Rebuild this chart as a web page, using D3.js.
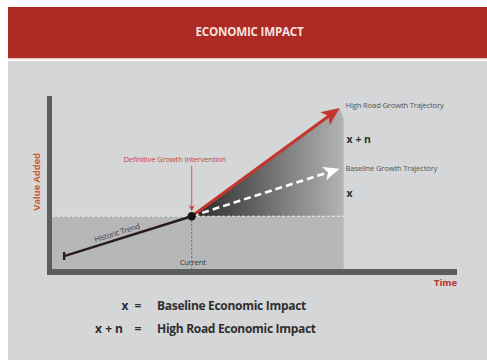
<!DOCTYPE html>
<html>
<head>
<meta charset="utf-8">
<script src="https://cdn.jsdelivr.net/npm/d3@7/dist/d3.min.js"></script>
<style>
  html, body { margin: 0; padding: 0; background: #ffffff; }
  svg { display: block; }
</style>
</head>
<body>
<svg id="chart" width="487" height="360"></svg>
<script>
// ---- data (time and value in arbitrary 0–100 units) ----
const title = "ECONOMIC IMPACT";
const historicTrend = [ { t: 3, v: 7.5 }, { t: 34.5, v: 30.5 } ];
const highRoadTrajectory = [ { t: 34.5, v: 30.5 }, { t: 71, v: 93 } ];
const baselineTrajectory = [ { t: 34.5, v: 30.5 }, { t: 71, v: 58 } ];
const projectionEnd = [ { t: 72, top: 87 } ];
const trajectoryLabels = ["High Road Growth Trajectory", "x + n", "Baseline Growth Trajectory", "x"];
const axisLabels = ["Value Added", "Time"];
const pointLabels = ["Current", "Historic Trend", "Definitive Growth Intervention"];
const legendKeys = ["x", "x + n"];
const legendText = ["Baseline Economic Impact", "High Road Economic Impact"];

const svg = d3.select("#chart");
const W = 487, H = 360;

// ---- page frame: banner and panel ----
svg.append("rect").attr("x", 8).attr("y", 61).attr("width", W - 8).attr("height", H - 61).attr("fill", "#d4d6d8");
svg.append("rect").attr("x", 8).attr("y", 7).attr("width", W - 8).attr("height", 51).attr("fill", "#ae2b25");
svg.append("rect").attr("x", 8).attr("y", 58).attr("width", W - 8).attr("height", 1.5).attr("fill", "#e6c9c4");
svg.append("text").attr("x", 249.5).attr("y", 35.5).attr("text-anchor", "middle")
  .attr("font-family", "Open Sans, sans-serif").attr("font-weight", 700).attr("font-size", 11.6)
  .attr("letter-spacing", -0.2).attr("fill", "#f4e2de").text(title);

// ---- scales ----
const x = d3.scaleLinear().domain([0, 100]).range([52, 457]);
const y = d3.scaleLinear().domain([0, 100]).range([269, 96]);

const cur = historicTrend[1];
const endT = projectionEnd[0];

// shaded history band below the current level
svg.append("rect")
  .attr("x", x(0)).attr("y", y(cur.v))
  .attr("width", x(endT.t) - x(0)).attr("height", y(0) - y(cur.v))
  .attr("fill", "#b6b7b9");

// gradient wedge between current level and high road trajectory
const defs = svg.append("defs");
const grad = defs.append("linearGradient").attr("id", "wedge")
  .attr("gradientUnits", "userSpaceOnUse")
  .attr("x1", x(cur.t)).attr("x2", x(endT.t)).attr("y1", 0).attr("y2", 0);
grad.append("stop").attr("offset", 0).attr("stop-color", "#282828");
grad.append("stop").attr("offset", 0.5).attr("stop-color", "#6e6e6e");
grad.append("stop").attr("offset", 1).attr("stop-color", "#b3b4b6");

const wedge = [
  [x(cur.t), y(cur.v)],
  [x(highRoadTrajectory[1].t), y(highRoadTrajectory[1].v)],
  [x(endT.t), y(endT.top)],
  [x(endT.t), y(cur.v)]
];
svg.append("path").attr("d", d3.line()(wedge) + "Z").attr("fill", "url(#wedge)");

// current level dashed guide
svg.append("line")
  .attr("x1", x(0)).attr("x2", x(endT.t)).attr("y1", y(cur.v)).attr("y2", y(cur.v))
  .attr("stroke", "#eeeeee").attr("stroke-width", 1).attr("stroke-dasharray", "3,2");

// vertical dashed "current" marker
svg.append("line")
  .attr("x1", x(cur.t)).attr("x2", x(cur.t)).attr("y1", y(cur.v)).attr("y2", y(0))
  .attr("stroke", "#4a4a4a").attr("stroke-width", 0.8).attr("stroke-dasharray", "2,2");

// ---- axes drawn as heavy bars from the scales ----
const xAxis = d3.axisBottom(x).ticks(0).tickSize(0).tickSizeOuter(0);
const yAxis = d3.axisLeft(y).ticks(0).tickSize(0).tickSizeOuter(0);
svg.append("g").attr("transform", `translate(0,${y(0) + 3})`).call(xAxis)
  .call(g => g.select(".domain").attr("stroke", "#5b5d5f").attr("stroke-width", 6)
    .attr("d", `M${x(0) - 5},0H${x(100)}`));
svg.append("g").attr("transform", `translate(${x(0) - 2.5},0)`).call(yAxis)
  .call(g => g.select(".domain").attr("stroke", "#5b5d5f").attr("stroke-width", 5)
    .attr("d", `M0,${y(100)}V${y(0)}`));

// arrowhead helper: swept head with tip at (tx,ty)
function arrowHead(tx, ty, angle, len, half, fill) {
  const back = 0.25 * len;
  const pts = [
    [0, 0], [-len, -half], [-len + back, 0], [-len, half]
  ].map(([px, py]) => [
    tx + px * Math.cos(angle) - py * Math.sin(angle),
    ty + px * Math.sin(angle) + py * Math.cos(angle)
  ]);
  svg.append("path").attr("d", d3.line()(pts) + "Z").attr("fill", fill);
}

const line = d3.line().x(d => x(d.t)).y(d => y(d.v));

// historic trend
svg.append("path").datum(historicTrend).attr("d", line)
  .attr("fill", "none").attr("stroke", "#2a1c1c").attr("stroke-width", 2.4);
svg.append("line")
  .attr("x1", x(historicTrend[0].t)).attr("x2", x(historicTrend[0].t))
  .attr("y1", y(historicTrend[0].v) - 4).attr("y2", y(historicTrend[0].v) + 4)
  .attr("stroke", "#2a1c1c").attr("stroke-width", 2.4);

// baseline trajectory (white dashed arrow)
{
  const [a, b] = baselineTrajectory;
  const ang = Math.atan2(y(b.v) - y(a.v), x(b.t) - x(a.t));
  const endX = x(b.t) - 12 * Math.cos(ang), endY = y(b.v) - 12 * Math.sin(ang);
  svg.append("line").attr("x1", x(a.t)).attr("y1", y(a.v)).attr("x2", endX).attr("y2", endY)
    .attr("stroke", "#ffffff").attr("stroke-width", 2.6).attr("stroke-dasharray", "7,4");
  arrowHead(x(b.t), y(b.v), ang, 16, 7, "#ffffff");
}

// high road trajectory (red arrow)
{
  const [a, b] = highRoadTrajectory;
  const ang = Math.atan2(y(b.v) - y(a.v), x(b.t) - x(a.t));
  const endX = x(b.t) - 12 * Math.cos(ang), endY = y(b.v) - 12 * Math.sin(ang);
  svg.append("line").attr("x1", x(a.t)).attr("y1", y(a.v)).attr("x2", endX).attr("y2", endY)
    .attr("stroke", "#c4362b").attr("stroke-width", 3);
  arrowHead(x(b.t), y(b.v), ang, 18, 8, "#c4362b");
}

// intervention point
svg.append("circle").attr("cx", x(cur.t)).attr("cy", y(cur.v)).attr("r", 4.2).attr("fill", "#151515");

// intervention callout
svg.append("line").attr("x1", x(cur.t)).attr("x2", x(cur.t)).attr("y1", 166).attr("y2", y(cur.v) - 7)
  .attr("stroke", "#c9493b").attr("stroke-width", 0.9);
arrowHead(x(cur.t), y(cur.v) - 5, Math.PI / 2, 6, 3, "#c9493b");
svg.append("text").attr("x", x(cur.t) - 17).attr("y", 162).attr("text-anchor", "middle")
  .attr("font-family", "Open Sans, sans-serif").attr("font-size", 7.7).attr("letter-spacing", -0.2)
  .attr("fill", "#c9493b").text(pointLabels[2]);

// current label
svg.append("text").attr("x", x(cur.t) + 1).attr("y", 265).attr("text-anchor", "middle")
  .attr("font-family", "Open Sans, sans-serif").attr("font-size", 7.6).attr("letter-spacing", -0.2)
  .attr("fill", "#333333").text(pointLabels[0]);

// historic trend label along the line
{
  const [a, b] = historicTrend;
  const ang = Math.atan2(y(b.v) - y(a.v), x(b.t) - x(a.t)) * 180 / Math.PI;
  const mx = x(a.t + (b.t - a.t) * 0.42), my = y(a.v + (b.v - a.v) * 0.42) - 4;
  svg.append("text").attr("transform", `translate(${mx},${my}) rotate(${ang})`)
    .attr("text-anchor", "middle")
    .attr("font-family", "Open Sans, sans-serif").attr("font-size", 7.6).attr("letter-spacing", -0.2)
    .attr("fill", "#3a3a3a").text(pointLabels[1]);
}

// trajectory labels
const labX = x(endT.t) + 2;
const tl = svg.append("g").attr("font-family", "Open Sans, sans-serif");
tl.append("text").attr("x", labX).attr("y", 108).attr("font-size", 7.7).attr("letter-spacing", -0.2)
  .attr("fill", "#555555").text(trajectoryLabels[0]);
tl.append("text").attr("x", labX + 1).attr("y", 143).attr("font-size", 10.5).attr("font-weight", 700)
  .attr("fill", "#2e2e2e").text(trajectoryLabels[1]);
tl.append("text").attr("x", labX).attr("y", 171).attr("font-size", 7.7).attr("letter-spacing", -0.2)
  .attr("fill", "#555555").text(trajectoryLabels[2]);
tl.append("text").attr("x", labX + 1).attr("y", 197).attr("font-size", 10.5).attr("font-weight", 700)
  .attr("fill", "#2e2e2e").text(trajectoryLabels[3]);

// axis titles
svg.append("text").attr("transform", `translate(40,182) rotate(-90)`).attr("text-anchor", "middle")
  .attr("font-family", "Open Sans, sans-serif").attr("font-size", 9.6).attr("font-weight", 700)
  .attr("letter-spacing", -0.2).attr("fill", "#cf5a35").text(axisLabels[0]);
svg.append("text").attr("x", 457).attr("y", 286).attr("text-anchor", "end")
  .attr("font-family", "Open Sans, sans-serif").attr("font-size", 9.4).attr("font-weight", 700)
  .attr("fill", "#b8332b").text(axisLabels[1]);

// legend
const lg = svg.append("g").attr("font-family", "Open Sans, sans-serif").attr("font-weight", 700)
  .attr("font-size", 12).attr("fill", "#2f2f2f");
legendKeys.forEach((k, i) => {
  const yy = 310 + i * 23;
  lg.append("text").attr("x", i === 0 ? 125 : 123).attr("y", yy)
    .attr("text-anchor", i === 0 ? "middle" : "end").text(k);
  lg.append("text").attr("x", 138).attr("y", yy).attr("text-anchor", "middle").text("=");
  lg.append("text").attr("x", 157).attr("y", yy).attr("letter-spacing", -0.3).text(legendText[i]);
});
</script>
</body>
</html>
